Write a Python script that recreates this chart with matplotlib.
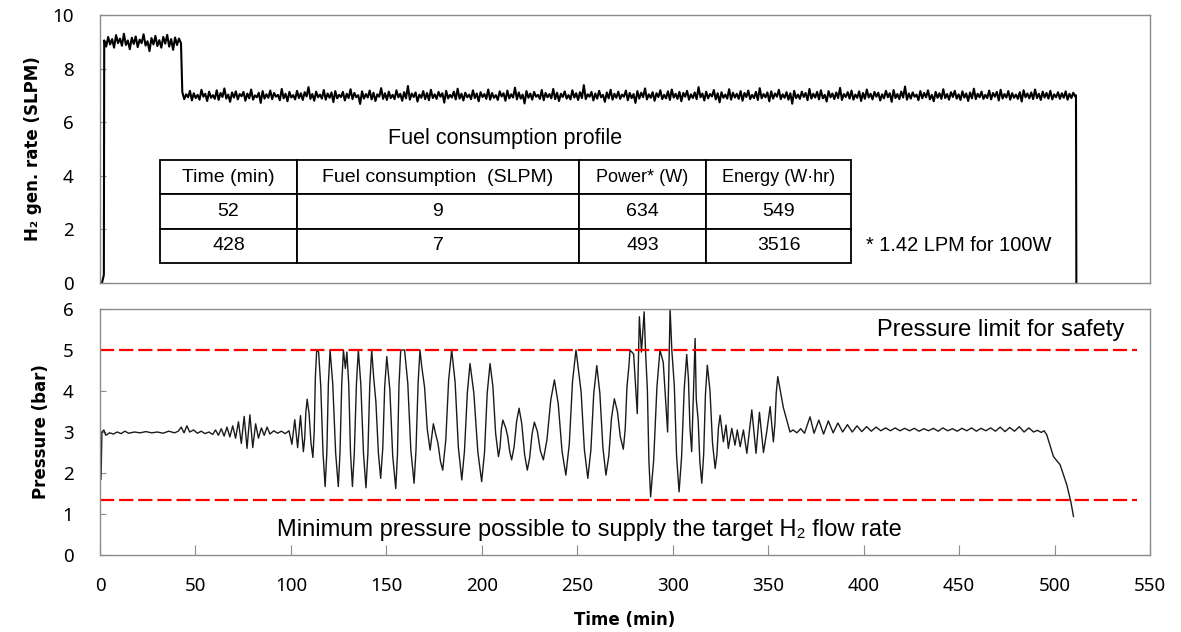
import numpy as np
import matplotlib
matplotlib.use("Agg")
import matplotlib.pyplot as plt

plt.rcParams["font.family"] = ["Noto Sans", "DejaVu Sans"]

# -----------------------------
# Datos: tasa de generacion de H2 (SLPM)
# -----------------------------
h2_start_t = [0.0, 1.0, 2.0]
h2_start_v = [0.0, 0.0, 0.3]

h2_high_t0, h2_high_t1 = 2.2, 42.4
h2_high = [9.05, 8.82, 9.18, 8.90, 9.10, 8.78, 9.25, 8.95, 9.12, 8.85,
           9.30, 8.88, 9.05, 8.72, 9.15, 8.92, 9.20, 8.80, 9.08, 8.95,
           9.28, 8.86, 9.02, 8.65, 9.14, 8.90, 9.22, 8.84, 9.06, 8.78,
           9.18, 8.93, 9.26, 8.82, 9.10, 8.70, 9.16, 8.88, 9.12, 8.95]

h2_low_t0, h2_low_t1 = 43.1, 510.8
h2_low = [7.12, 6.86, 7.04, 6.93, 7.17, 6.81, 7.08, 6.90, 7.02, 6.84, 7.21, 6.95,
          7.06, 6.79, 7.14, 6.91, 7.01, 6.87, 7.19, 6.83, 7.09, 6.94, 7.26, 6.88,
          7.03, 6.76, 7.11, 6.92, 7.15, 6.85, 7.05, 6.97, 7.13, 6.80, 7.07, 6.89,
          7.22, 6.84, 7.00, 6.93, 7.10, 6.72, 7.16, 6.88, 7.04, 6.91, 7.18, 6.86,
          7.09, 6.95, 7.02, 6.82, 7.24, 6.89, 7.06, 6.78, 7.13, 6.92, 7.01, 6.85,
          7.17, 6.90, 7.08, 6.83, 7.12, 6.96, 7.31, 6.87, 7.05, 6.80, 7.14, 6.93,
          7.03, 6.88, 7.20, 6.84, 7.07, 6.91, 7.11, 6.75, 7.16, 6.89, 7.02, 6.94,
          7.13, 6.81, 7.06, 6.90, 7.23, 6.86, 7.09, 6.93, 7.01, 6.68, 7.15, 6.88,
          7.05, 6.92, 7.18, 6.85, 7.10, 6.79, 7.04, 6.95, 7.27, 6.87, 7.08, 6.83,
          7.14, 6.90, 7.02, 6.86, 7.19, 6.93, 7.06, 6.80, 7.12, 6.89, 7.35, 6.84,
          7.07, 6.94, 7.11, 6.77, 7.03, 6.91, 7.16, 6.86, 7.09, 6.82, 7.21, 6.90,
          7.04, 6.87, 7.13, 6.95, 7.08, 6.73, 7.17, 6.89, 7.02, 6.92, 7.14, 6.85,
          7.25, 6.88, 7.06, 6.81, 7.10, 6.93, 7.03, 6.86, 7.19, 6.90, 7.07, 6.78,
          7.12, 6.94, 7.05, 6.87, 7.22, 6.84, 7.09, 6.91, 7.01, 6.83, 7.15, 6.96,
          7.08, 6.80, 7.18, 6.89, 7.04, 6.92, 7.29, 6.85, 7.11, 6.88, 7.03, 6.70,
          7.16, 6.91, 7.07, 6.84, 7.13, 6.95, 7.02, 6.87, 7.20, 6.82, 7.09, 6.93,
          7.05, 6.89, 7.24, 6.86, 7.10, 6.79, 7.06, 6.94, 7.15, 6.88, 7.01, 6.85,
          7.19, 6.92, 7.08, 6.83, 7.12, 6.90, 7.38, 6.86, 7.04, 6.95, 7.13, 6.81,
          7.07, 6.88, 7.17, 6.93, 7.02, 6.76, 7.11, 6.89, 7.21, 6.84, 7.06, 6.91,
          7.14, 6.87, 7.03, 6.95, 7.18, 6.82, 7.09, 6.90, 7.05, 6.72, 7.16, 6.88,
          7.10, 6.93, 7.26, 6.85, 7.04, 6.91, 7.12, 6.80, 7.08, 6.94, 7.19, 6.86,
          7.02, 6.89, 7.15, 6.83, 7.22, 6.92, 7.06, 6.87, 7.13, 6.78, 7.09, 6.95,
          7.17, 6.84, 7.04, 6.90, 7.11, 6.86, 7.31, 6.93, 7.07, 6.81, 7.14, 6.89,
          7.05, 6.96, 7.20, 6.85, 7.08, 6.74, 7.12, 6.91, 7.03, 6.88, 7.23, 6.84,
          7.10, 6.92, 7.06, 6.87, 7.16, 6.80, 7.09, 6.94, 7.18, 6.86, 7.02, 6.90,
          7.13, 6.83, 7.27, 6.89, 7.05, 6.93, 7.11, 6.78, 7.15, 6.88, 7.07, 6.95,
          7.21, 6.86, 7.04, 6.91, 7.12, 6.84, 7.08, 6.69, 7.17, 6.90, 7.03, 6.87,
          7.14, 6.94, 7.09, 6.82, 7.24, 6.88, 7.06, 6.92, 7.13, 6.85, 7.19, 6.89,
          7.02, 6.77, 7.16, 6.93, 7.07, 6.86, 7.11, 6.90, 7.28, 6.83, 7.05, 6.94,
          7.12, 6.88, 7.18, 6.84, 7.03, 6.91, 7.15, 6.79, 7.09, 6.87, 7.22, 6.92,
          7.06, 6.85, 7.13, 6.95, 7.10, 6.81, 7.04, 6.89, 7.17, 6.93, 7.08, 6.76,
          7.20, 6.90, 7.05, 6.86, 7.14, 6.92, 7.33, 6.84, 7.07, 6.88, 7.11, 6.95,
          7.03, 6.82, 7.16, 6.89, 7.09, 6.93, 7.19, 6.85, 7.02, 6.78, 7.13, 6.91,
          7.08, 6.87, 7.23, 6.90, 7.05, 6.84, 7.12, 6.94, 7.17, 6.88, 7.04, 6.83,
          7.15, 6.92, 7.07, 6.79, 7.11, 6.89, 7.25, 6.86, 7.06, 6.93, 7.14, 6.87,
          7.02, 6.90, 7.18, 6.85, 7.09, 6.95, 7.13, 6.81, 7.21, 6.88, 7.05, 6.92,
          7.16, 6.84, 7.08, 6.91, 7.03, 6.87, 7.12, 6.77, 7.19, 6.93, 7.07, 6.89,
          7.11, 6.86, 7.22, 6.90, 7.06, 6.83, 7.14, 6.92, 7.09, 6.88, 7.17, 6.85,
          7.04, 6.93, 7.12, 6.87, 7.08, 6.91, 7.15, 6.84, 7.06, 6.90, 7.10, 6.96]

h2_end_t = [511.2, 511.4]
h2_end_v = [7.0, 0.0]

# -----------------------------
# Datos: presion (bar)
# -----------------------------
p_time = [0.5, 1.0, 2, 3, 5, 7, 9, 11, 13, 15, 18, 21, 24, 27, 30, 33, 36, 39, 41,
          42.5, 44, 45.5, 47, 49, 51, 53, 55, 57, 59, 60.5, 62, 63.5, 65, 66.5, 68,
          69.5, 71, 72.5, 74, 75.5, 77, 78.5, 80, 81.5, 83, 84.5, 86, 87.5, 89, 91,
          93, 95, 97, 99, 100.5, 102, 103.5, 105, 106.5, 108.5, 111.5, 113.5, 114.5,
          117.9, 120.5, 124.8, 127.5, 128.5, 129.3, 132.2, 135.3, 139.3, 142.3, 143.3,
          147, 150.2, 154.9, 157.5, 159.5, 164.5, 167.6, 168.5, 172.9, 174.6, 175.8,
          179.5, 184.2, 189.5, 193.8, 199.9, 204.3, 208.7, 211, 212.5, 215.6, 219.5,
          223.8, 227.5, 232.2, 238, 244, 249.3, 250.2, 255.5, 260.2, 265, 269.4,
          274.1, 277, 277.6, 279.5, 281.4, 282.5, 283.6, 285, 285.8, 288.4, 293.3,
          295, 297.3, 298.6, 299.5, 303.3, 307.3, 309.9, 311.7, 312.3, 315.2, 318.1,
          322.2, 324.8, 326.5, 327.9, 329.1, 330.9, 332.6, 333.8, 335.3, 337.0,
          338.8, 341.4, 343.6, 345.4, 347.5, 349.2, 351.0, 352.7, 355.0, 357.9,
          361.4, 363, 365, 367, 369, 371.9, 374, 376.5, 379, 381.5, 384, 386.5, 389,
          391.5, 394, 396.5, 399, 401.5, 404, 406.5, 409, 411.5, 414, 416.5, 419,
          421.5, 424, 426.5, 429, 431.5, 434, 436.5, 439, 441.5, 444, 446.5, 449,
          451.5, 454, 456.5, 459, 461.5, 464, 466.5, 469, 471.5, 474, 476.5, 479,
          481.5, 484, 486.5, 489, 491, 493, 494.5, 495.9, 499.4, 502.9, 506.4,
          508.5, 509.9]
p_value = [1.85, 3.0, 3.05, 2.92, 2.98, 2.95, 3.0, 2.96, 3.02, 2.97, 3.0, 2.98, 3.01,
           2.98, 3.0, 2.97, 3.02, 2.98, 3.02,
           3.12, 2.98, 3.15, 3.0, 3.05, 2.97, 3.02, 2.96, 3.0, 2.94, 3.05, 2.92, 3.08,
           2.9, 3.12, 2.88,
           3.15, 2.85, 3.25, 2.72, 3.38, 2.6, 3.42, 2.62, 3.2, 2.85, 3.1, 2.92, 3.12,
           2.95, 3.03,
           2.97, 3.02, 2.96, 3.03, 2.7, 3.3, 2.62, 3.4, 2.52, 3.8, 2.38, 5.0, 4.95,
           1.67, 5.0, 1.67, 5.0, 4.55, 4.95, 1.67, 5.0, 1.64, 5.0, 4.35,
           1.87, 4.84, 1.62, 5.0, 5.0, 1.75, 5.0, 4.6, 2.56, 3.2, 2.95,
           2.07, 5.0, 1.83, 4.67, 1.79, 4.67, 2.4, 3.29, 3.1, 2.32, 3.58,
           2.07, 3.24, 2.32, 4.27, 1.95, 5.0, 4.67, 1.87, 4.62, 1.95, 3.81,
           2.58, 4.6, 5.0, 4.9, 3.45, 5.81, 4.95, 5.93, 4.9, 1.42, 5.0,
           4.7, 3.0, 6.0, 5.0, 1.54, 4.89, 2.52, 5.28, 3.8, 1.75, 4.63,
           2.11, 3.41, 2.76, 3.17, 2.6, 3.09, 2.68, 3.05, 2.64, 3.05,
           2.48, 3.54, 2.48, 3.48, 2.5, 3.0, 3.62, 2.76, 4.35, 3.6,
           3.0, 3.05, 2.98, 3.08, 2.97, 3.37, 2.97, 3.29, 2.95, 3.27, 2.98, 3.22, 3.0,
           3.18, 3.0, 3.15, 3.01, 3.13, 3.02, 3.12, 3.03, 3.1, 3.03, 3.1, 3.03,
           3.09, 3.03, 3.09, 3.02, 3.08, 3.03, 3.09, 3.02, 3.1, 3.03, 3.08, 3.02,
           3.09, 3.03, 3.1, 3.02, 3.09, 3.03, 3.1, 3.02, 3.12, 3.01, 3.11, 3.02,
           3.13, 3.0, 3.1, 3.0, 3.04, 2.99, 3.03, 2.93, 2.4, 2.2, 1.71,
           1.3, 0.94]

# puntos de los flancos de cada oscilacion
p_flank_time = [107.2, 107.8, 109.5, 110.5, 112.2, 112.8, 115.6, 116.8, 118.8, 119.6,
                121.9, 123.4, 125.7, 126.6, 130.3, 131.2, 133.2, 134.3, 136.6, 138.0,
                140.3, 141.3, 144.5, 145.8, 148.1, 149.1, 151.8, 153.3, 155.8, 156.6,
                161.2, 162.8, 165.5, 166.6, 170.0, 171.4, 177.0, 178.3, 181.1, 182.6,
                186.0, 187.7, 190.9, 192.4, 195.8, 197.9, 201.4, 202.8, 205.8, 207.2,
                209.5, 210.2, 213.5, 214.6, 216.9, 218.2, 220.9, 222.4, 225.0, 226.3,
                229.1, 230.6, 234.1, 236.1, 240.0, 242.0, 245.8, 247.5, 252.0, 253.7,
                257.1, 258.6, 261.8, 263.4, 266.5, 267.9, 271.0, 272.5, 275.1, 276.0,
                286.7, 287.5, 290.0, 291.7, 300.8, 302.0, 304.6, 306.0, 308.2, 309.0,
                313.3, 314.2, 316.2, 317.1, 319.5, 320.8, 323.1, 323.9, 353.5, 354.2]
p_flank_value = [2.84, 3.48, 3.45, 2.73, 3.03, 4.35, 4.13, 2.49, 2.50, 4.17,
                 4.17, 2.50, 2.50, 4.17, 4.13, 2.49, 2.50, 4.17, 4.16, 2.48,
                 2.48, 4.16, 3.73, 2.49, 2.61, 4.10, 4.04, 2.42, 2.47, 4.15,
                 4.19, 2.56, 2.56, 4.19, 4.09, 3.07, 2.73, 2.29, 2.80, 4.27,
                 4.21, 2.62, 2.54, 3.96, 3.95, 2.51, 2.51, 3.95, 4.10, 2.97,
                 2.62, 3.07, 2.90, 2.52, 2.64, 3.26, 3.20, 2.45, 2.36, 2.95,
                 3.01, 2.55, 2.81, 3.78, 3.69, 2.53, 2.71, 4.24, 3.97, 2.57,
                 2.56, 3.93, 3.95, 2.62, 2.42, 3.34, 3.50, 2.89, 3.08, 4.10,
                 4.03, 2.29, 2.32, 4.10, 4.13, 2.41, 2.38, 4.05, 4.30, 3.10,
                 3.29, 2.26, 2.47, 3.91, 4.00, 2.74, 2.44, 3.09, 3.20, 3.95]

safety_limit = 5.0
min_pressure = 1.33
limit_line_end = 543

# -----------------------------
# Tabla de consumo de combustible
# -----------------------------
table_header = ["Time (min)", "Fuel consumption  (SLPM)", "Power* (W)", "Energy (W\u00b7hr)"]
table_rows = [["52", "9", "634", "549"],
              ["428", "7", "493", "3516"]]
table_title = "Fuel consumption profile"
table_note = "* 1.42 LPM for 100W"

# -----------------------------
# Grafico
# -----------------------------
fig = plt.figure(figsize=(11.81, 6.32), dpi=100)
ax1 = fig.add_axes([0.0847, 0.5522, 0.8891, 0.4241])
ax2 = fig.add_axes([0.0847, 0.1218, 0.8891, 0.3893])

frame_color = "#8c8c8c"
label_font = dict(fontsize=12, fontweight="bold", family="DejaVu Sans")
for ax in (ax1, ax2):
    for sp in ax.spines.values():
        sp.set_color(frame_color)
        sp.set_linewidth(1.0)
    ax.set_xlim(0, 550)

# panel superior
t_high = np.linspace(h2_high_t0, h2_high_t1, len(h2_high))
t_low = np.linspace(h2_low_t0, h2_low_t1, len(h2_low))
h2_t = np.concatenate([h2_start_t, t_high, t_low, h2_end_t])
h2_v = np.concatenate([h2_start_v, h2_high, h2_low, h2_end_v])
ax1.plot(h2_t, h2_v, color="black", lw=1.5)
ax1.set_ylim(0, 10)
ax1.set_yticks([0, 2, 4, 6, 8, 10])
ax1.set_xticks([])
ax1.tick_params(axis="y", direction="in", length=4, color=frame_color,
                labelsize=13.5, pad=19)
ax1.set_ylabel("H\u2082 gen. rate (SLPM)", **label_font)
ax1.yaxis.set_label_coords(-0.055, 0.5)

cell_font = ["Liberation Sans", "DejaVu Sans"]
col_widths = [137, 282, 127, 145]
col_widths = [w / sum(col_widths) for w in col_widths]
tbl = ax1.table(cellText=[table_header] + table_rows, colWidths=col_widths,
                cellLoc="center", bbox=[0.0571, 0.0746, 0.6581, 0.3844])
tbl.auto_set_font_size(False)
for (r, c), cell in tbl.get_celld().items():
    cell.set_edgecolor("black")
    cell.set_linewidth(1.3)
    cell.get_text().set_fontfamily(cell_font)
    size = 13 if (r == 0 and c >= 2) else 14
    cell.get_text().set_fontsize(size)

ax1.text(0.386, 0.519, table_title, transform=ax1.transAxes, ha="center",
         va="baseline", fontsize=15.5, family=cell_font)
ax1.text(0.7295, 0.12, table_note, transform=ax1.transAxes, ha="left",
         va="baseline", fontsize=14.4, family=cell_font)

# panel inferior
pt = np.concatenate([p_time, p_flank_time])
pv = np.concatenate([p_value, p_flank_value])
order = np.argsort(pt, kind="stable")
ax2.plot(pt[order], pv[order], color="#1a1a1a", lw=1.0)
dash = (0, (6.4, 2.2))
ax2.hlines([safety_limit, min_pressure], 0, limit_line_end, colors="#ff0000",
           lw=1.6, linestyles=[dash, dash])
ax2.set_ylim(0, 6)
ax2.set_yticks([0, 1, 2, 3, 4, 5, 6])
ax2.set_xticks(np.arange(0, 551, 50))
ax2.tick_params(axis="y", direction="in", length=4, color=frame_color,
                labelsize=13.5, pad=19)
ax2.tick_params(axis="x", direction="in", length=7, color=frame_color,
                labelsize=13.5, pad=16)
ax2.set_ylabel("Pressure (bar)", **label_font)
ax2.yaxis.set_label_coords(-0.048, 0.5)
ax2.set_xlabel("Time (min)", **label_font)
ax2.xaxis.set_label_coords(0.5, -0.228)

ax2.text(0.975, 0.89, "Pressure limit for safety", transform=ax2.transAxes,
         ha="right", va="baseline", fontsize=17, family=cell_font)
ax2.text(0.466, 0.077, "Minimum pressure possible to supply the target H\u2082 flow rate",
         transform=ax2.transAxes, ha="center", va="baseline", fontsize=17,
         family=cell_font)

plt.savefig("out.png", dpi=100)
